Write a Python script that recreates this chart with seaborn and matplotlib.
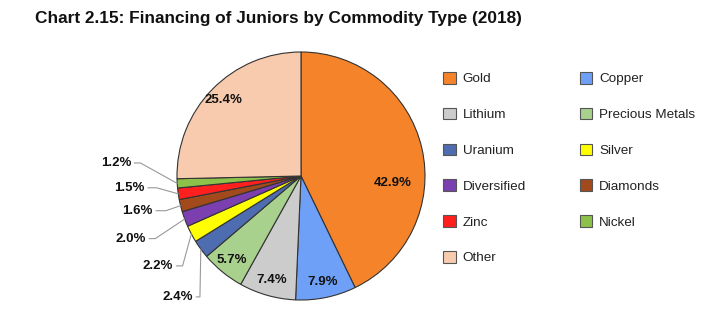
import numpy as np
import matplotlib
matplotlib.use("Agg")
import matplotlib.pyplot as plt
from matplotlib.patches import Patch
import seaborn as sns

# ---- data ----
categories = ["Gold", "Copper", "Lithium", "Precious Metals", "Uranium", "Silver",
              "Diversified", "Diamonds", "Zinc", "Nickel", "Other"]
values = [42.9, 7.9, 7.4, 5.7, 2.4, 2.2, 2.0, 1.6, 1.5, 1.2, 25.4]
colors = ["#F5832A", "#6FA0F8", "#CCCCCC", "#A9D18E", "#4E6CB0", "#FFFF00",
          "#7B3FB0", "#A24A1C", "#FF1F1F", "#8DC24A", "#F9CBAE"]
legend_order = ["Gold", "Lithium", "Uranium", "Diversified", "Zinc", "Other",
                "Copper", "Precious Metals", "Silver", "Diamonds", "Nickel"]
title = "Chart 2.15: Financing of Juniors by Commodity Type (2018)"

# ---- layout (styling only) ----
outside = {"Uranium": (-0.87, -0.975, 0.03),
           "Silver": (-1.03, -0.725, 0.05),
           "Diversified": (-1.25, -0.505, 0.05),
           "Diamonds": (-1.195, -0.28, 0.08),
           "Zinc": (-1.26, -0.095, 0.07),
           "Nickel": (-1.37, 0.105, 0.05)}
inside_override = {"Gold": (0.74, np.deg2rad(-4.3))}

sns.set_theme(style="white")
plt.rcParams["font.family"] = ["Liberation Sans", "DejaVu Sans"]

W, H = 707, 336
fig = plt.figure(figsize=(W / 100, H / 100), dpi=100)
fig.patch.set_facecolor("white")

cx, cy, r = 301, 176, 124
ax = fig.add_axes([(cx - r) / W, (H - cy - r) / H, 2 * r / W, 2 * r / H])
pal = sns.color_palette(colors)
wedges, _ = ax.pie(values, colors=pal, startangle=90, counterclock=False,
                   wedgeprops=dict(edgecolor="#333333", linewidth=0.8))
ax.set_xlim(-1, 1)
ax.set_ylim(-1, 1)
ax.set_aspect("equal")
ax.axis("off")

for w, cat, v in zip(wedges, categories, values):
    mid = np.deg2rad((w.theta1 + w.theta2) / 2)
    label = f"{v:.1f}%"
    if cat in outside:
        lx, ly, el = outside[cat]
        ax.text(lx, ly, label, ha="right", va="center", fontsize=9.5,
                fontweight="bold", color="#111111", clip_on=False)
        ax_x, ax_y = np.cos(mid), np.sin(mid)
        x0 = lx + 0.025
        ax.plot([x0, x0 + el, ax_x], [ly, ly, ax_y], color="#999999",
                lw=0.8, clip_on=False, solid_joinstyle="miter")
    else:
        if cat in inside_override:
            rr, ang = inside_override[cat]
        else:
            rr, ang = 0.875, mid
        ax.text(rr * np.cos(ang), rr * np.sin(ang), label, ha="center",
                va="center", fontsize=9.5, fontweight="bold", color="#111111")

fig.text(35 / W, 1 - 18 / H, title, ha="left", va="center",
         fontsize=12.4, fontweight="bold", color="#111111")

cmap = dict(zip(categories, colors))
handles = [Patch(facecolor=cmap[c], edgecolor="#555555", linewidth=0.8)
           for c in legend_order]
leg = fig.legend(handles, legend_order, ncol=2, loc="upper left",
                 bbox_to_anchor=(443 / W, 1 - 72 / H), frameon=False,
                 fontsize=9.7, handlelength=0.95, handleheight=0.95,
                 handletextpad=0.5, labelspacing=1.66, columnspacing=4.0,
                 borderpad=0, borderaxespad=0)
for t in leg.get_texts():
    t.set_color("#222222")

fig.savefig("out.png", dpi=100, facecolor="white")
